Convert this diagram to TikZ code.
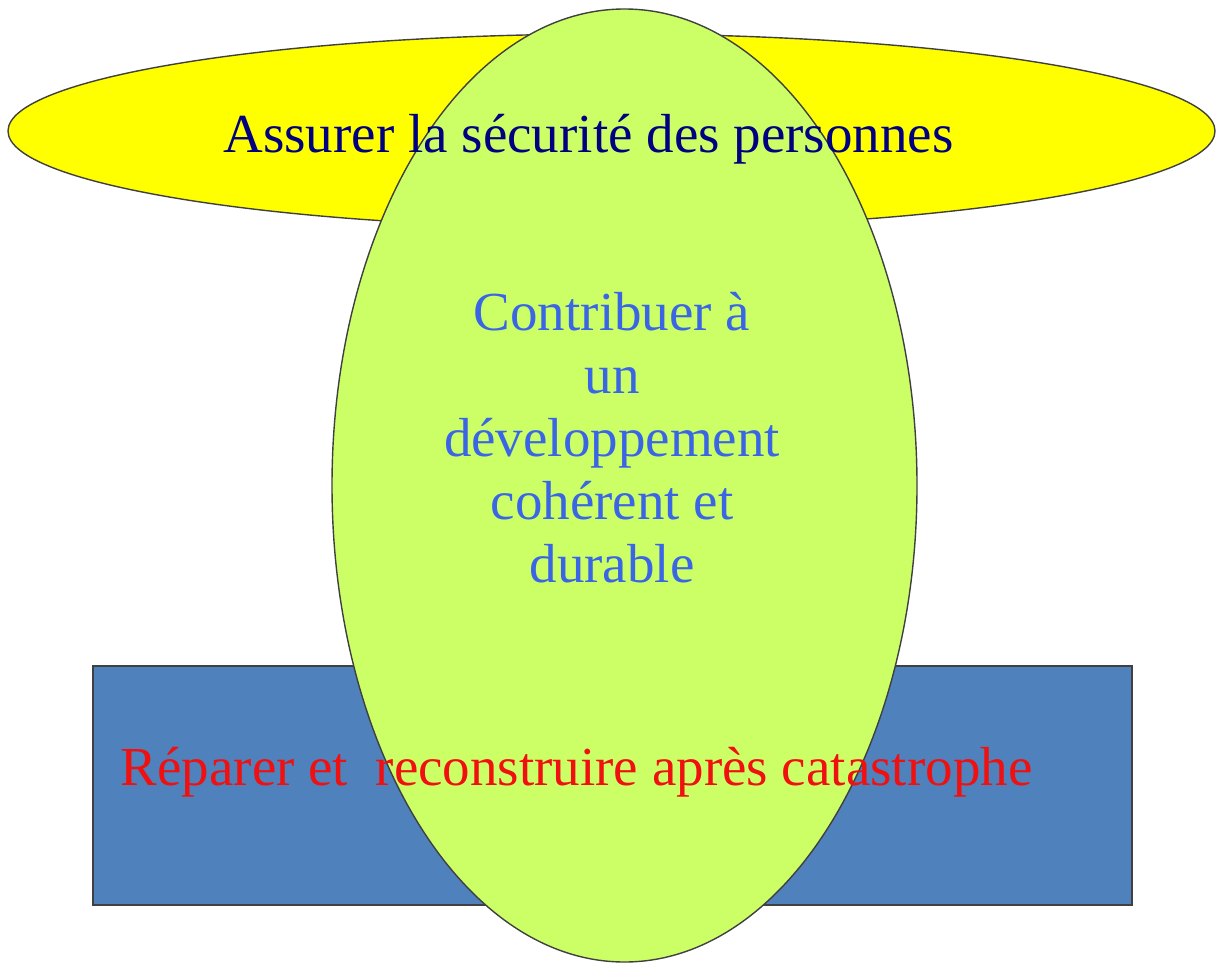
\documentclass[tikz,border=0pt]{standalone}
\usepackage{fontspec}
\setmainfont{Liberation Serif}
\usetikzlibrary{shapes.geometric}
\definecolor{ylw}{HTML}{FFFF00}
\definecolor{grn}{HTML}{CCFF66}
\definecolor{blu}{HTML}{4F81BD}
\definecolor{navy}{HTML}{000080}
\definecolor{txtblue}{HTML}{3A66E6}
\definecolor{txtred}{HTML}{F01010}
\definecolor{edge}{HTML}{404040}
\tikzset{
  shapeline/.style={draw=edge, line width=1.4pt, inner sep=0pt, outer sep=0pt},
  bigtext/.style={font=\fontsize{55}{63}\selectfont, inner sep=0pt},
}
\begin{document}
\begin{tikzpicture}[x=1pt,y=-1pt]
\useasboundingbox (0,0) rectangle (1217,963);
\node[shapeline, ellipse, fill=ylw, minimum width=1207pt, minimum height=194pt] (safety) at (611.5,131) {};
\node[shapeline, rectangle, fill=blu, minimum width=1039pt, minimum height=239pt] (repair) at (612.5,785.5) {};
\node[shapeline, ellipse, fill=grn, minimum width=585pt, minimum height=953pt] (dev) at (624.5,485.5) {};
\node[bigtext, text=navy, anchor=base] (safetytext) at (588.5,152) {Assurer la sécurité des personnes};
\node[bigtext, text=txtred, anchor=base] (repairtext) at (576.5,785) {Réparer et\ \ reconstruire après catastrophe};
\node[bigtext, text=txtblue, align=center, anchor=base] (devtext) at (612,582) {Contribuer à\\un\\développement\\cohérent et\\durable};
\end{tikzpicture}
\end{document}
